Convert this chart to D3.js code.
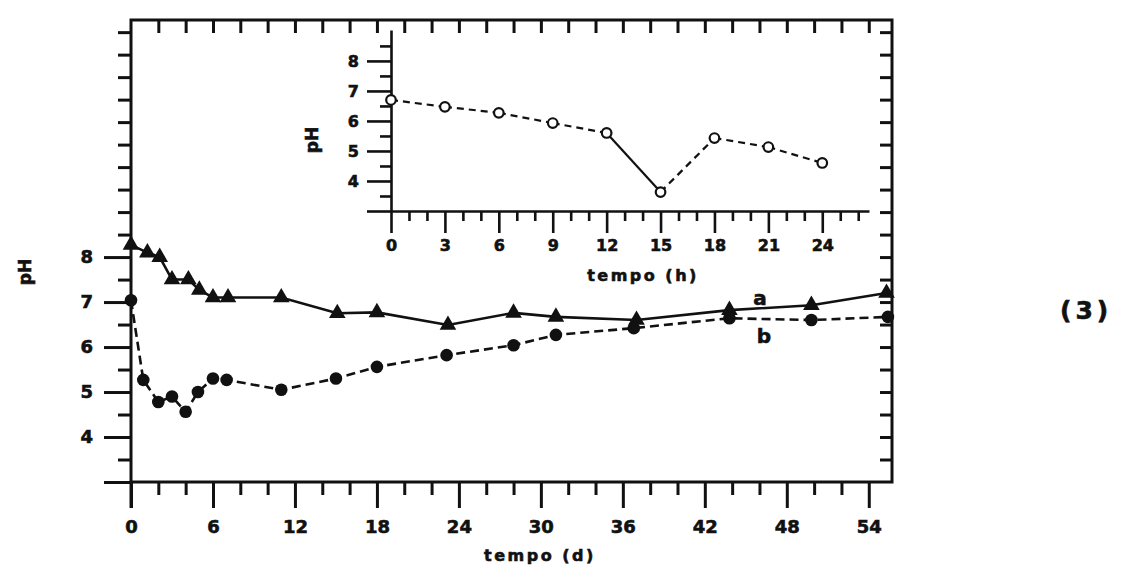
<!DOCTYPE html>
<html>
<head>
<meta charset="utf-8">
<script src="https://cdn.jsdelivr.net/npm/d3@7"></script>
<style>
  html, body { margin: 0; padding: 0; background: #fff; }
  svg { display: block; }
  text { font-family: "DejaVu Sans", "Liberation Sans", sans-serif; font-weight: bold; fill: #111;
         stroke: #111; stroke-width: 0.6px; }
</style>
</head>
<body>
<svg id="chart" width="1121" height="568"></svg>
<script>
// Main plot: pH over days, series a (triangles) and b (filled circles)
const daysA = [0, 1.2, 2.1, 3, 4.2, 5, 6, 7.1, 11, 15.1, 18, 23.2, 28, 31.1, 37, 43.8, 49.8, 55.3];
const phA   = [8.27, 8.1, 8.0, 7.5, 7.5, 7.27, 7.1, 7.1, 7.1, 6.75, 6.77, 6.49, 6.76, 6.67, 6.6, 6.82, 6.93, 7.2];
const daysB = [0, 0.9, 2, 3, 4, 4.9, 6, 7, 11, 15, 18, 23.1, 28, 31.1, 36.8, 43.8, 49.8, 55.4];
const phB   = [7.04, 5.27, 4.78, 4.9, 4.56, 5.0, 5.3, 5.27, 5.05, 5.3, 5.56, 5.82, 6.04, 6.27, 6.42, 6.64, 6.6, 6.67];

// Inset: pH over the first 24 hours
const hours   = [0, 3, 6, 9, 12, 15, 18, 21, 24];
const phHours = [6.7, 6.47, 6.27, 5.93, 5.6, 3.63, 5.43, 5.13, 4.6];

// Tick labels
const dayTicks   = [0, 6, 12, 18, 24, 30, 36, 42, 48, 54];
const phTicks    = [4, 5, 6, 7, 8];
const hourTicks  = [0, 3, 6, 9, 12, 15, 18, 21, 24];
const insetPhTicks = [4, 5, 6, 7, 8];

const svg = d3.select("#chart");
const ink = "#111";

// ---------- main plot ----------
const x = d3.scaleLinear().domain([0, 55.7]).range([131, 892]);
const y = d3.scaleLinear().domain([3, 13.27]).range([482, 20]);

const styleAxis = (g, w) => {
  g.selectAll("path.domain").remove();
  g.selectAll("line").attr("stroke", ink).attr("stroke-width", w);
};

// frame
svg.append("rect")
  .attr("x", x.range()[0]).attr("y", y.range()[1])
  .attr("width", x.range()[1] - x.range()[0])
  .attr("height", y.range()[0] - y.range()[1])
  .attr("fill", "none").attr("stroke", ink).attr("stroke-width", 3);

const minorDays = d3.range(2, 56, 2).filter(d => d % 6 !== 0);
const halfPh = d3.range(3.5, 13.01, 0.5).filter(v => !(Number.isInteger(v) && v >= 3 && v <= 8));

// bottom axis
svg.append("g").attr("transform", `translate(0,${y(3)})`)
  .call(d3.axisBottom(x).tickValues(minorDays).tickSize(13).tickSizeOuter(0).tickFormat(""))
  .call(g => styleAxis(g, 3));
svg.append("g").attr("transform", `translate(0,${y(3)})`)
  .call(d3.axisBottom(x).tickValues(dayTicks).tickSize(26).tickSizeOuter(0).tickPadding(12))
  .call(g => styleAxis(g, 3))
  .call(g => g.selectAll("text").attr("font-size", 18).attr("fill", ink)
    .attr("font-family", "DejaVu Sans").attr("stroke", ink).attr("stroke-width", 0.7));

// top ticks (inward)
svg.append("g").attr("transform", `translate(0,${y.range()[1]})`)
  .call(d3.axisTop(x).tickValues(d3.range(2, 56, 2)).tickSize(-13).tickFormat(""))
  .call(g => styleAxis(g, 3));

// left axis
svg.append("g").attr("transform", `translate(${x(0)},0)`)
  .call(d3.axisLeft(y).tickValues(halfPh).tickSize(13).tickSizeOuter(0).tickFormat(""))
  .call(g => styleAxis(g, 3));
svg.append("g").attr("transform", `translate(${x(0)},0)`)
  .call(d3.axisLeft(y).tickValues([3].concat(phTicks)).tickSize(27).tickSizeOuter(0).tickPadding(11)
    .tickFormat(d => d === 3 ? "" : d))
  .call(g => styleAxis(g, 3))
  .call(g => g.selectAll("text").attr("font-size", 18).attr("fill", ink)
    .attr("font-family", "DejaVu Sans").attr("stroke", ink).attr("stroke-width", 0.7));

// right ticks (inward)
svg.append("g").attr("transform", `translate(${x.range()[1]},0)`)
  .call(d3.axisRight(y).tickValues(d3.range(3.5, 13.01, 0.5)).tickSize(-12).tickFormat(""))
  .call(g => styleAxis(g, 3));

// y-axis line continues below the bottom axis as the long 0 tick
svg.append("line")
  .attr("x1", x(0)).attr("x2", x(0)).attr("y1", y(3)).attr("y2", y(3) + 26)
  .attr("stroke", ink).attr("stroke-width", 3);

// series lines
const lineA = d3.line().x(d => x(d[0])).y(d => y(d[1]));
const dataA = daysA.map((d, i) => [d, phA[i]]);
const dataB = daysB.map((d, i) => [d, phB[i]]);

svg.append("path").datum(dataA).attr("d", lineA)
  .attr("fill", "none").attr("stroke", ink).attr("stroke-width", 2.6);
svg.append("path").datum(dataB).attr("d", lineA)
  .attr("fill", "none").attr("stroke", ink).attr("stroke-width", 2.6)
  .attr("stroke-dasharray", "9,5");

// markers
const tri = d3.symbol().type(d3.symbolTriangle).size(120);
svg.append("g").selectAll("path").data(dataA).join("path")
  .attr("d", tri).attr("transform", d => `translate(${x(d[0])},${y(d[1])})`)
  .attr("fill", ink);
svg.append("g").selectAll("circle").data(dataB).join("circle")
  .attr("cx", d => x(d[0])).attr("cy", d => y(d[1])).attr("r", 6.3)
  .attr("fill", ink);

// series labels
svg.append("text").attr("x", 760).attr("y", 305).attr("text-anchor", "middle")
  .attr("font-size", 20).text("a");
svg.append("text").attr("x", 764).attr("y", 343).attr("text-anchor", "middle")
  .attr("font-size", 20).text("b");

// axis titles
svg.append("text").attr("x", 540).attr("y", 561).attr("text-anchor", "middle")
  .attr("font-size", 16).attr("letter-spacing", 2.5).text("tempo (d)");
svg.append("text").attr("transform", "translate(31,272) rotate(-90)").attr("text-anchor", "middle")
  .attr("font-size", 17).text("pH");

// figure number
svg.append("text").attr("x", 1060).attr("y", 319).attr("font-size", 25)
  .attr("letter-spacing", 4).text("(3)");

// ---------- inset ----------
const xi = d3.scaleLinear().domain([0, 26.6]).range([391, 869]);
const yi = d3.scaleLinear().domain([3, 9.03]).range([211, 30]);

const minorHours = d3.range(1, 27, 1).filter(h => h % 3 !== 0);
svg.append("g").attr("transform", `translate(0,${yi(3)})`)
  .call(d3.axisBottom(xi).tickValues(minorHours).tickSize(10).tickSizeOuter(0).tickFormat(""))
  .call(g => g.select("path.domain").attr("stroke", ink).attr("stroke-width", 2.6))
  .call(g => g.selectAll("line").attr("stroke", ink).attr("stroke-width", 2.6));
svg.append("g").attr("transform", `translate(0,${yi(3)})`)
  .call(d3.axisBottom(xi).tickValues(hourTicks).tickSize(22).tickSizeOuter(0).tickPadding(7))
  .call(g => styleAxis(g, 2.6))
  .call(g => g.selectAll("text").attr("font-size", 16).attr("fill", ink)
    .attr("font-family", "DejaVu Sans").attr("stroke", ink).attr("stroke-width", 0.6));

const insetHalf = d3.range(3.5, 9.01, 0.5).filter(v => !Number.isInteger(v));
svg.append("g").attr("transform", `translate(${xi(0)},0)`)
  .call(d3.axisLeft(yi).tickValues(insetHalf).tickSize(11).tickSizeOuter(0).tickFormat(""))
  .call(g => g.select("path.domain").attr("stroke", ink).attr("stroke-width", 2.6))
  .call(g => g.selectAll("line").attr("stroke", ink).attr("stroke-width", 2.6));
svg.append("g").attr("transform", `translate(${xi(0)},0)`)
  .call(d3.axisLeft(yi).tickValues([3].concat(insetPhTicks)).tickSize(24).tickSizeOuter(0).tickPadding(8)
    .tickFormat(d => d === 3 ? "" : d))
  .call(g => styleAxis(g, 2.6))
  .call(g => g.selectAll("text").attr("font-size", 16).attr("fill", ink)
    .attr("font-family", "DejaVu Sans").attr("stroke", ink).attr("stroke-width", 0.6));

// inset line: dashed, except the drop from 12 h to 15 h drawn solid
const dataH = hours.map((h, i) => [h, phHours[i]]);
const segs = d3.pairs(dataH);
svg.append("g").selectAll("line").data(segs).join("line")
  .attr("x1", d => xi(d[0][0])).attr("y1", d => yi(d[0][1]))
  .attr("x2", d => xi(d[1][0])).attr("y2", d => yi(d[1][1]))
  .attr("stroke", ink).attr("stroke-width", 2.2)
  .attr("stroke-dasharray", d => (d[0][0] === 12 && d[1][0] === 15) ? null : "7,5");
svg.append("g").selectAll("circle").data(dataH).join("circle")
  .attr("cx", d => xi(d[0])).attr("cy", d => yi(d[1])).attr("r", 4.8)
  .attr("fill", "#fff").attr("stroke", ink).attr("stroke-width", 2.2);

svg.append("text").attr("x", 643).attr("y", 281).attr("text-anchor", "middle")
  .attr("font-size", 16).attr("letter-spacing", 2.5).text("tempo (h)");
svg.append("text").attr("transform", "translate(318,140) rotate(-90)").attr("text-anchor", "middle")
  .attr("font-size", 17).text("pH");
</script>
</body>
</html>
